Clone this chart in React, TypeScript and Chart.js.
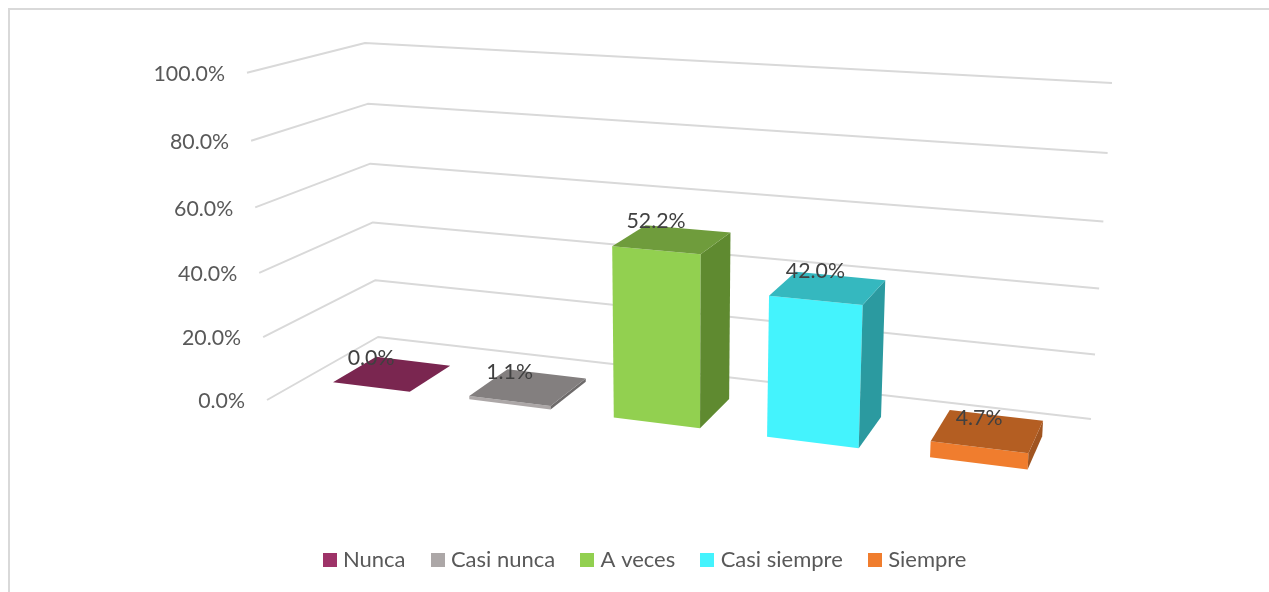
import React, { useEffect, useRef } from "react";
import { Chart, registerables } from "chart.js";

Chart.register(...registerables);

const categories = ["Nunca", "Casi nunca", "A veces", "Casi siempre", "Siempre"];
const values = [0.0, 1.1, 52.2, 42.0, 4.7];
const frontColors = ["#9e3368", "#aca7a7", "#92d050", "#44f3fd", "#f07d2e"];
const topColors = ["#7a2650", "#837f7f", "#6f9c3c", "#35b8bf", "#b45e22"];
const sideColors = ["#6a2145", "#6e6b6b", "#5f8a30", "#2b9aa0", "#a05420"];

const FONT = "Lato, 'Open Sans', sans-serif";
const GRID = "#d9d9d9";
const TEXT = "#595959";
const LABEL = "#404040";

type P = [number, number];

// Perspective frame of the 3D chart (floor/wall corners)
const wallA: P = [378, 337];
const wallBackBottomRight: P = [1091, 419];
const wallBackTopRight: P = [1112, 83];
const wallTopLeft: P = [365, 43];
const sideFrontBottom: P = [267, 400];
const sideFrontTop: P = [246, 73];
const BAR_Z_BACK = 0.285;
const BAR_Z_FRONT = 0.685;
const BAR_X_STRETCH = 0.9945;

function squareToQuad(p00: P, p10: P, p11: P, p01: P) {
  const dx3 = p00[0] - p10[0] + p11[0] - p01[0];
  const dy3 = p00[1] - p10[1] + p11[1] - p01[1];
  const dx1 = p10[0] - p11[0];
  const dx2 = p01[0] - p11[0];
  const dy1 = p10[1] - p11[1];
  const dy2 = p01[1] - p11[1];
  const den = dx1 * dy2 - dx2 * dy1;
  const g = (dx3 * dy2 - dx2 * dy3) / den;
  const h = (dx1 * dy3 - dx3 * dy1) / den;
  return {
    u: [p10[0] - p00[0] + g * p10[0], p10[1] - p00[1] + g * p10[1], g],
    v: [p01[0] - p00[0] + h * p01[0], p01[1] - p00[1] + h * p01[1], h],
    o: [p00[0], p00[1], 1],
  };
}

const back = squareToQuad(wallA, wallBackBottomRight, wallBackTopRight, wallTopLeft);
const side = squareToQuad(wallA, sideFrontBottom, sideFrontTop, wallTopLeft);

function project(x: number, y: number, z: number): P {
  const c = [0, 1, 2].map((i) => back.u[i] * x + back.v[i] * y + side.u[i] * z + back.o[i]);
  return [c[0] / c[2], c[1] / c[2]];
}

function poly(ctx: CanvasRenderingContext2D, pts: P[], fill: string) {
  ctx.beginPath();
  pts.forEach((p, i) => (i ? ctx.lineTo(p[0], p[1]) : ctx.moveTo(p[0], p[1])));
  ctx.closePath();
  ctx.fillStyle = fill;
  ctx.fill();
}

function makeSwatch(color: string) {
  const c = document.createElement("canvas");
  c.width = 14;
  c.height = 14;
  const g = c.getContext("2d")!;
  g.fillStyle = color;
  g.fillRect(0, 0, 14, 14);
  return c;
}

function barGeometry(chart: any, i: number) {
  const area = chart.chartArea;
  const bar = chart.getDatasetMeta(i).data[0] as any;
  const yScale = chart.scales.y;
  const x0 = (BAR_X_STRETCH * (bar.x - bar.width / 2 - area.left)) / area.width;
  const x1 = (BAR_X_STRETCH * (bar.x + bar.width / 2 - area.left)) / area.width;
  const yTop = (area.bottom - yScale.getPixelForValue(values[i])) / area.height;
  return { x0, x1, yTop };
}

const perspective3d = {
  id: "perspective3d",
  beforeDatasetsDraw(chart: any) {
    const ctx = chart.ctx as CanvasRenderingContext2D;
    const area = chart.chartArea;
    const yScale = chart.scales.y;
    ctx.save();
    ctx.strokeStyle = GRID;
    ctx.lineWidth = 2;
    ctx.lineJoin = "round";
    ctx.font = `21.3px ${FONT}`;
    ctx.textBaseline = "middle";
    ctx.textAlign = "right";
    yScale.ticks.forEach((t: any) => {
      const y = (area.bottom - yScale.getPixelForValue(t.value)) / area.height;
      const a = project(0, y, 1);
      const b = project(0, y, 0);
      const c = project(1, y, 0);
      ctx.beginPath();
      ctx.moveTo(a[0], a[1]);
      ctx.lineTo(b[0], b[1]);
      ctx.lineTo(c[0], c[1]);
      ctx.stroke();
      ctx.fillStyle = TEXT;
      ctx.fillText(`${t.value.toFixed(1)}%`, a[0] - 22, a[1] + 1.5);
    });
    ctx.restore();
  },
  beforeDatasetDraw(chart: any, args: any) {
    const ctx = chart.ctx as CanvasRenderingContext2D;
    const i = args.index;
    const { x0, x1, yTop } = barGeometry(chart, i);
    const zF = BAR_Z_FRONT;
    const zB = BAR_Z_BACK;
    poly(ctx, [project(x0, 0, zF), project(x1, 0, zF), project(x1, yTop, zF), project(x0, yTop, zF)], frontColors[i]);
    poly(ctx, [project(x1, 0, zF), project(x1, 0, zB), project(x1, yTop, zB), project(x1, yTop, zF)], sideColors[i]);
    poly(ctx, [project(x0, yTop, zF), project(x1, yTop, zF), project(x1, yTop, zB), project(x0, yTop, zB)], topColors[i]);
    return false;
  },
  afterDatasetsDraw(chart: any) {
    const ctx = chart.ctx as CanvasRenderingContext2D;
    ctx.save();
    ctx.font = `21.3px ${FONT}`;
    ctx.fillStyle = LABEL;
    ctx.textAlign = "center";
    ctx.textBaseline = "middle";
    values.forEach((v, i) => {
      const { x0, x1, yTop } = barGeometry(chart, i);
      const p = project((x0 + x1) / 2, yTop, BAR_Z_FRONT);
      ctx.fillText(`${v.toFixed(1)}%`, p[0], p[1] - 29);
    });
    ctx.restore();
  },
};

export default function App() {
  const ref = useRef<HTMLCanvasElement>(null);
  useEffect(() => {
    document.body.style.margin = "0";
    const swatches = frontColors.map(makeSwatch);
    const chart = new Chart(ref.current!, {
      type: "bar",
      data: {
        labels: ["Serie"],
        datasets: categories.map((name, i) => ({
          label: name,
          data: [values[i]],
          backgroundColor: frontColors[i],
          barPercentage: 0.57,
          categoryPercentage: 1,
        })),
      },
      options: {
        responsive: false,
        animation: false,
        layout: { padding: { left: 25, right: 0, top: 10, bottom: 11 } },
        plugins: {
          tooltip: { enabled: false },
          legend: {
            position: "bottom",
            labels: {
              usePointStyle: true,
              pointStyleWidth: 4.4,
              padding: 30,
              color: TEXT,
              font: { family: FONT, size: 22 },
              generateLabels: (c: any) =>
                Chart.defaults.plugins.legend.labels.generateLabels(c).map((l: any, i: number) => ({
                  ...l,
                  pointStyle: swatches[i],
                })),
            },
          },
        },
        scales: {
          x: { display: false },
          y: { display: false, min: 0, max: 100, ticks: { stepSize: 20 } },
        },
      },
      plugins: [perspective3d],
    } as any);
    return () => chart.destroy();
  }, []);
  return (
    <div style={{ position: "fixed", left: 0, top: 0, width: 1269, height: 592, background: "#fff", overflow: "hidden" }}>
      <canvas ref={ref} width={1269} height={592} style={{ display: "block" }} />
      <div style={{ position: "absolute", left: 8, top: 8, width: 1300, height: 700, border: "2px solid #d9d9d9", boxSizing: "border-box" }} />
    </div>
  );
}
